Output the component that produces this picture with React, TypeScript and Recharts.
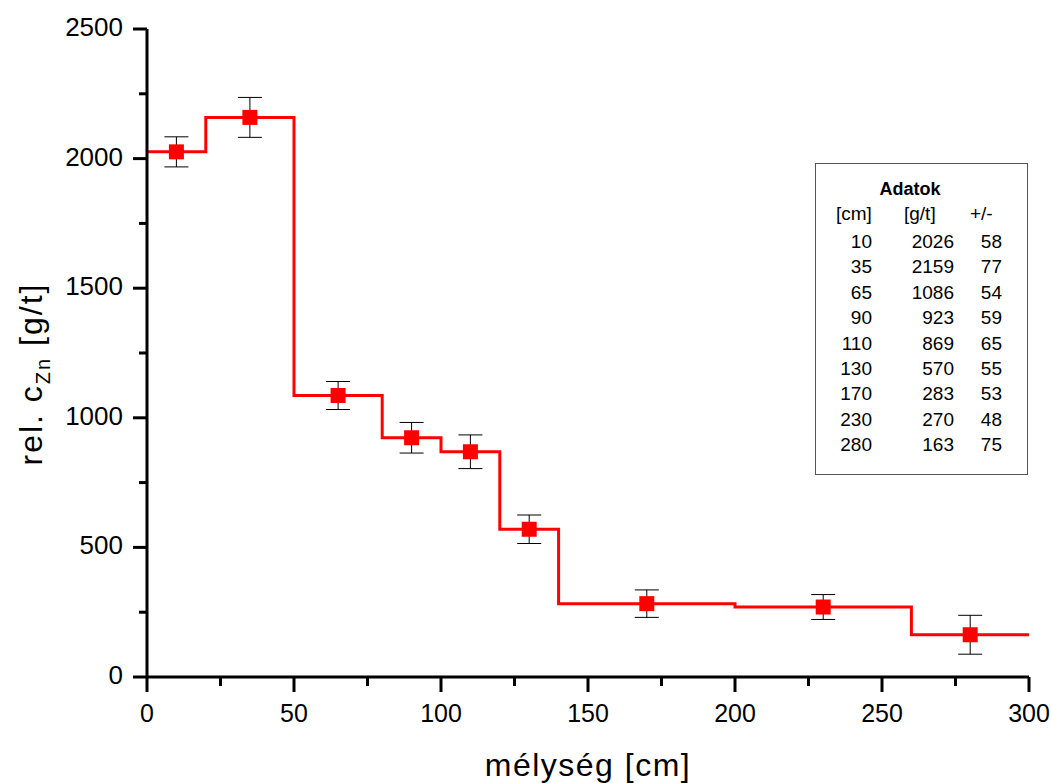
import { ComposedChart, Line, Scatter, XAxis, YAxis, ErrorBar } from "recharts";

// measured points (Adatok table)
const depthCm = [10, 35, 65, 90, 110, 130, 170, 230, 280];
const concGt = [2026, 2159, 1086, 923, 869, 570, 283, 270, 163];
const errGt = [58, 77, 54, 59, 65, 55, 53, 48, 75];

// layer boundaries of the step line
const layerEdges = [0, 20, 50, 80, 100, 120, 140, 200, 260, 300];
const layerConc = [2026, 2159, 1086, 923, 869, 570, 283, 270, 163, 163];

const xTicks = [0, 25, 50, 75, 100, 125, 150, 175, 200, 225, 250, 275, 300];
const yTicks = [0, 250, 500, 750, 1000, 1250, 1500, 1750, 2000, 2250, 2500];

const FONT = '"Liberation Sans", Arial, Helvetica, sans-serif';

const points = depthCm.map((x, i) => ({ x, y: concGt[i], err: errGt[i] }));
const steps = layerEdges.map((x, i) => ({ x, y: layerConc[i] }));

const YTick = (props: any) => {
  const { x, y, payload } = props;
  const major = payload.value % 500 === 0;
  return (
    <g>
      <line x1={x - (major ? 14 : 8)} x2={x} y1={y} y2={y} stroke="#000" strokeWidth={3} />
      {major && (
        <text x={x - 24} y={y + 7} textAnchor="end" fontSize={26} fill="#000" fontFamily={FONT}>
          {payload.value}
        </text>
      )}
    </g>
  );
};

const XTick = (props: any) => {
  const { x, y, payload } = props;
  const major = payload.value % 50 === 0;
  return (
    <g>
      <line x1={x} x2={x} y1={y} y2={y + (major ? 15 : 9)} stroke="#000" strokeWidth={3} />
      {major && (
        <text x={x} y={y + 45} textAnchor="middle" fontSize={25} fill="#000" fontFamily={FONT}>
          {payload.value}
        </text>
      )}
    </g>
  );
};

const Square = (props: any) => {
  const { cx, cy } = props;
  if (cx == null || cy == null) return null;
  return <rect x={cx - 7.5} y={cy - 7.5} width={15} height={15} fill="#ff0000" />;
};

const XTitle = () => (
  <text x={588} y={776} textAnchor="middle" fontSize={32} letterSpacing={1.5} fill="#000" fontFamily={FONT}>
    mélység [cm]
  </text>
);

const YTitle = () => (
  <text
    x={42}
    y={374}
    transform="rotate(-90 42 374)"
    textAnchor="middle"
    fontSize={32}
    letterSpacing={2}
    fill="#000"
    fontFamily={FONT}
  >
    <tspan>rel. c</tspan>
    <tspan fontSize={20} dy={8}>Zn</tspan>
    <tspan dy={-8}> [g/t]</tspan>
  </text>
);

const rowTop = (i: number) => 241 - 163 - 11 + i * 25.4;

export default function App() {
  return (
    <div style={{ position: "absolute", left: 0, top: 0, width: 1051, height: 783, background: "#fff" }}>
      <ComposedChart
        width={1051}
        height={783}
        margin={{ top: 29, right: 22, bottom: 26, left: 47 }}
        style={{ fontFamily: FONT }}
      >
        <XAxis
          type="number"
          dataKey="x"
          domain={[0, 300]}
          ticks={xTicks}
          interval={0}
          tick={<XTick />}
          tickSize={0}
          tickMargin={0}
          tickLine={false}
          axisLine={{ stroke: "#000", strokeWidth: 3 }}
          height={80}
          label={{ content: () => <XTitle /> }}
        />
        <YAxis
          type="number"
          dataKey="y"
          domain={[0, 2500]}
          ticks={yTicks}
          interval={0}
          tick={<YTick />}
          tickSize={0}
          tickMargin={0}
          tickLine={false}
          axisLine={{ stroke: "#000", strokeWidth: 3 }}
          width={100}
          label={{ content: () => <YTitle /> }}
        />
        <Line
          data={steps}
          dataKey="y"
          type="stepAfter"
          stroke="#ff0000"
          strokeWidth={3}
          dot={false}
          activeDot={false}
          isAnimationActive={false}
        />
        <Scatter data={points} dataKey="y" shape={<Square />} isAnimationActive={false}>
          <ErrorBar dataKey="err" direction="y" width={12} stroke="#000" strokeWidth={1} />
        </Scatter>
      </ComposedChart>

      <div
        style={{
          position: "absolute",
          left: 815,
          top: 163,
          width: 213,
          height: 312,
          border: "1.5px solid #555",
          boxSizing: "border-box",
          fontFamily: FONT,
          fontSize: 19,
          lineHeight: "22px",
          color: "#000",
        }}
      >
        <div style={{ position: "absolute", left: 44, width: 100, top: 188 - 163 - 11, textAlign: "center", fontWeight: "bold", fontSize: 18 }}>
          Adatok
        </div>
        <div style={{ position: "absolute", left: 20, top: 213 - 163 - 11 }}>[cm]</div>
        <div style={{ position: "absolute", left: 88, top: 213 - 163 - 11 }}>[g/t]</div>
        <div style={{ position: "absolute", left: 154, top: 213 - 163 - 11 }}>+/-</div>
        {depthCm.map((d, i) => (
          <div key={d} style={{ position: "absolute", left: 0, right: 0, top: rowTop(i), height: 22 }}>
            <span style={{ position: "absolute", right: 155, textAlign: "right" }}>{d}</span>
            <span style={{ position: "absolute", right: 73, textAlign: "right" }}>{concGt[i]}</span>
            <span style={{ position: "absolute", right: 25, textAlign: "right" }}>{errGt[i]}</span>
          </div>
        ))}
      </div>
    </div>
  );
}
